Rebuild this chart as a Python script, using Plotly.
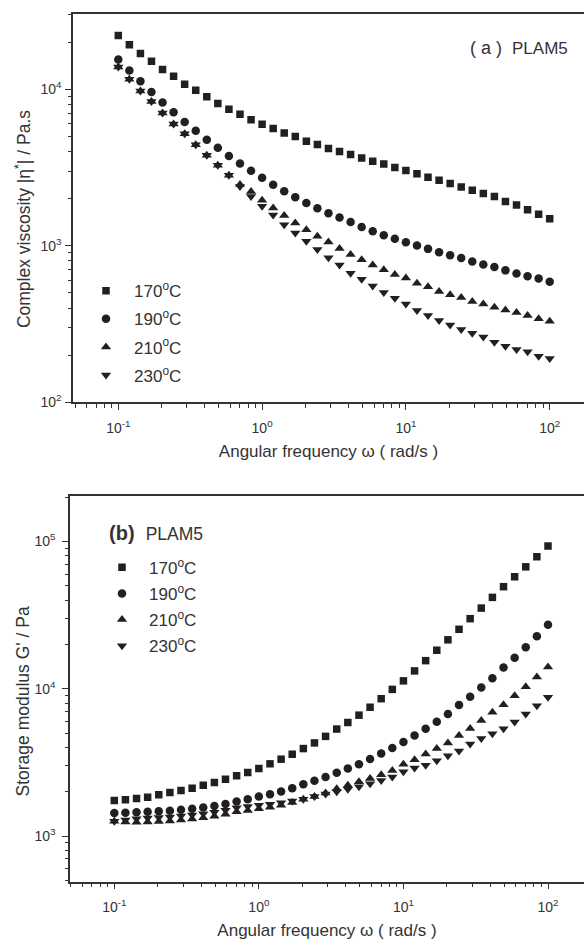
import plotly.graph_objects as go

# ---------------- data ----------------
omega = [0.1, 0.1194, 0.1425, 0.1701, 0.2031, 0.2424, 0.2894, 0.3455, 0.4125, 0.4924,
         0.5878, 0.7017, 0.8377, 1.0, 1.194, 1.425, 1.701, 2.031, 2.424, 2.894,
         3.455, 4.125, 4.924, 5.878, 7.017, 8.377, 10.0, 11.94, 14.25, 17.01,
         20.31, 24.24, 28.94, 34.55, 41.25, 49.24, 58.78, 70.17, 83.77, 100.0]

temps = ["170<sup>o</sup>C", "190<sup>o</sup>C", "210<sup>o</sup>C", "230<sup>o</sup>C"]

# (a) complex viscosity |eta*| / Pa.s
eta_170 = [22080, 19270, 16900, 15100, 13390, 12090, 10760, 9860, 8940, 8110,
           7460, 6910, 6390, 5980, 5610, 5260, 4990, 4660, 4430, 4180,
           4000, 3830, 3640, 3460, 3330, 3160, 3020, 2880, 2740, 2620,
           2500, 2370, 2260, 2160, 2060, 1915, 1823, 1695, 1592, 1486]
eta_190 = [15490, 13180, 11240, 9610, 8240, 7120, 6180, 5420, 4750, 4230,
           3750, 3350, 3010, 2720, 2450, 2230, 2040, 1876, 1737, 1615,
           1517, 1416, 1316, 1236, 1166, 1110, 1053, 1002, 955, 910,
           871, 834, 794, 760, 731, 696, 664, 638, 617, 588]
eta_210 = [13845, 11570, 9755, 8359, 7047, 6002, 5186, 4419, 3780, 3268,
           2823, 2465, 2220, 1952, 1742, 1562, 1396, 1266, 1150, 1058,
           959, 879, 814, 753, 703, 656, 623, 576, 546, 510,
           486, 467, 441, 424, 404, 388, 375, 358, 341, 329]
eta_230 = [13845, 11570, 9755, 8359, 7047, 6002, 5186, 4419, 3780, 3268,
           2823, 2394, 2063, 1789, 1573, 1361, 1206, 1069, 945, 838,
           753, 666, 610, 554, 503, 461, 424, 385, 358, 333,
           312, 292, 276, 261, 242, 228, 217, 210, 197, 190]

# (b) storage modulus G' / Pa
g_170 = [1746, 1763, 1801, 1838, 1905, 1977, 2040, 2114, 2214, 2308,
         2429, 2564, 2707, 2871, 3093, 3327, 3594, 3927, 4290, 4751,
         5328, 5902, 6617, 7490, 8559, 9900, 11310, 13210, 15510, 18250,
         21480, 25320, 29880, 35260, 41690, 49270, 57520, 67170, 78650, 92990]
g_190 = [1434, 1440, 1450, 1464, 1473, 1487, 1510, 1534, 1562, 1599,
         1649, 1720, 1782, 1858, 1926, 2008, 2114, 2248, 2374, 2517,
         2695, 2881, 3079, 3338, 3634, 3969, 4356, 4825, 5354, 5975,
         6752, 7762, 8829, 10210, 11790, 13920, 16250, 19150, 22710, 27220]
g_210 = [1262, 1245, 1240, 1248, 1256, 1268, 1287, 1307, 1332, 1363,
         1406, 1464, 1494, 1532, 1572, 1618, 1692, 1782, 1858, 1962,
         2097, 2214, 2337, 2465, 2613, 2791, 3074, 3296, 3606, 3927,
         4290, 4825, 5378, 6086, 6934, 7798, 8966, 10310, 12030, 14050]
g_230 = [1262, 1285, 1310, 1327, 1336, 1348, 1369, 1391, 1417, 1450,
         1496, 1557, 1589, 1618, 1647, 1682, 1732, 1782, 1858, 1931,
         2001, 2080, 2163, 2264, 2381, 2523, 2737, 2902, 3031, 3250,
         3512, 3778, 4210, 4600, 4950, 5354, 5938, 6752, 7680, 8747]

x_tickvals = [0.1, 1, 10, 100]
x_ticktext = ["10<sup>-1</sup>", "10<sup>0</sup>", "10<sup>1</sup>", "10<sup>2</sup>"]
ya_tickvals = [100, 1000, 10000]
ya_ticktext = ["10<sup>2</sup>", "10<sup>3</sup>", "10<sup>4</sup>"]
yb_tickvals = [1000, 10000, 100000]
yb_ticktext = ["10<sup>3</sup>", "10<sup>4</sup>", "10<sup>5</sup>"]

x_title = "Angular frequency ω ( rad/s )"
ya_title = "Complex viscosity |η<sup>*</sup>| / Pa.s"
yb_title = "Storage modulus G' / Pa"

# ---------------- styles ----------------
FONT = "Arial, Liberation Sans, Helvetica, sans-serif"
INK = "#231f20"
AX = "#333333"
TXT = "#333333"
symbols = ["square", "circle", "triangle-up", "triangle-down"]
sizes = [7.5, 8.5, 9, 9]


def minor_vals(lo_dec, hi_dec):
    return [m * 10 ** d for d in range(lo_dec, hi_dec + 1) for m in range(2, 10)]


fig = go.Figure()

for name, ys, sym, sz, i in zip(temps, [eta_170, eta_190, eta_210, eta_230], symbols, sizes, range(4)):
    fig.add_trace(go.Scatter(
        x=omega, y=ys, mode="markers", name=name,
        marker=dict(symbol=sym, size=sz, color=INK, line=dict(width=0)),
        xaxis="x", yaxis="y", legend="legend", legendgroup="a%d" % i))

for name, ys, sym, sz, i in zip(temps, [g_170, g_190, g_210, g_230], symbols, sizes, range(4)):
    fig.add_trace(go.Scatter(
        x=omega, y=ys, mode="markers", name=name,
        marker=dict(symbol=sym, size=sz, color=INK, line=dict(width=0)),
        xaxis="x2", yaxis="y2", legend="legend2", legendgroup="b%d" % i))

base = dict(type="log", showline=True, linecolor=AX, linewidth=1.5,
            ticks="outside", ticklen=6, tickwidth=1.2, tickcolor=AX,
            showgrid=False, zeroline=False,
            tickfont=dict(family=FONT, size=14, color=TXT))

H = 941.0
W = 584.0
minor_x = dict(tickvals=minor_vals(-2, 1), ticklen=3.5, tickwidth=1, tickcolor=AX, ticks="outside")

fig.update_layout(
    width=584, height=941,
    margin=dict(l=0, r=0, t=0, b=0),
    paper_bgcolor="white", plot_bgcolor="white",
    font=dict(family=FONT, color=TXT),
    showlegend=True,
    xaxis=dict(base, domain=[73 / W, 1], range=[-1.315, 2.2385], anchor="y", mirror=True,
               tickmode="array", tickvals=x_tickvals, ticktext=x_ticktext, ticklabelstandoff=6,
               minor=minor_x,
               title=dict(text=x_title, font=dict(family=FONT, size=17, color=TXT), standoff=10)),
    yaxis=dict(base, domain=[1 - 405.7 / H, 1 - 14 / H], range=[2, 4.4814], anchor="x",
               tickmode="array", tickvals=ya_tickvals, ticktext=ya_ticktext, ticklabelstandoff=1,
               minor=dict(tickvals=minor_vals(2, 4), ticklen=3.5, tickwidth=1, tickcolor=AX, ticks="outside")),
    xaxis2=dict(base, domain=[70 / W, 1], range=[-1.3064, 2.249], anchor="y2", mirror=True,
                tickmode="array", tickvals=x_tickvals, ticktext=x_ticktext, ticklabelstandoff=6,
                minor=minor_x,
                title=dict(text=x_title, font=dict(family=FONT, size=17, color=TXT), standoff=10)),
    yaxis2=dict(base, domain=[1 - 889.3 / H, 1 - 500.7 / H], range=[2.6905, 5.3048], anchor="x2",
                tickmode="array", tickvals=yb_tickvals, ticktext=yb_ticktext, ticklabelstandoff=4,
                minor=dict(tickvals=minor_vals(2, 5), ticklen=3.5, tickwidth=1, tickcolor=AX, ticks="outside")),
    legend=dict(x=78 / W, y=1 - 275.5 / H, xanchor="left", yanchor="top",
                font=dict(family=FONT, size=17, color=TXT), bgcolor="rgba(0,0,0,0)",
                tracegroupgap=3, itemwidth=46),
    legend2=dict(x=95 / W, y=1 - 554.5 / H, xanchor="left", yanchor="top",
                 font=dict(family=FONT, size=17, color=TXT), bgcolor="rgba(0,0,0,0)",
                 tracegroupgap=1, itemwidth=44),
    annotations=[
        dict(text=ya_title, xref="paper", yref="paper", x=23 / W, y=1 - 221 / H,
             xanchor="center", yanchor="middle", textangle=-90, showarrow=False,
             font=dict(family=FONT, size=17.5, color=TXT)),
        dict(text=yb_title, xref="paper", yref="paper", x=22.5 / W, y=1 - 708 / H,
             xanchor="center", yanchor="middle", textangle=-90, showarrow=False,
             font=dict(family=FONT, size=17.5, color=TXT)),
        dict(text="( a )  <span style='font-size:17px'>PLAM5</span>", xref="paper", yref="paper",
             x=468 / W, y=1 - 48 / H, xanchor="left", yanchor="middle", showarrow=False,
             font=dict(family=FONT, size=18, color=TXT)),
        dict(text="<b>(b)</b>  <span style='font-size:17.5px'>PLAM5</span>", xref="paper", yref="paper",
             x=107 / W, y=1 - 538 / H, xanchor="left", yanchor="middle", showarrow=False,
             font=dict(family=FONT, size=20, color=TXT)),
    ],
)

fig.write_html("out.html")
